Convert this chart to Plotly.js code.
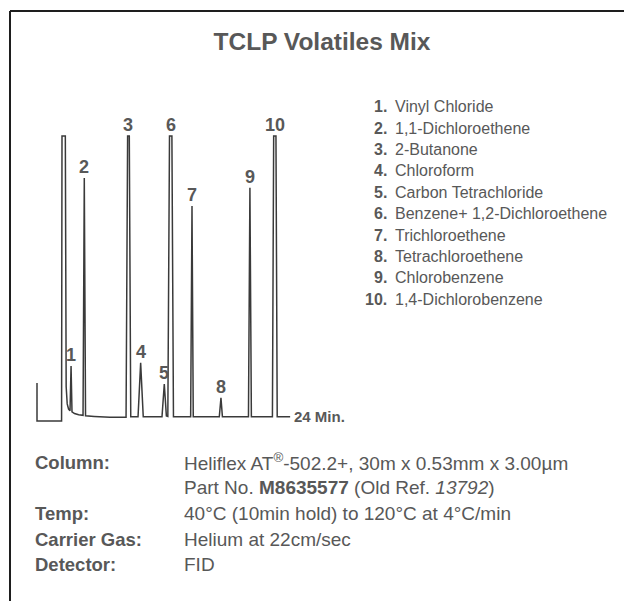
<!DOCTYPE html>
<html>
<head>
<meta charset="utf-8">
<script src="https://cdn.plot.ly/plotly-3.0.1.min.js"></script>
<style>html,body{margin:0;padding:0;background:#fff;}#chart{width:624px;height:601px;}</style>
</head>
<body>
<div id="chart"></div>
<script>
// ---- data ----
const chartTitle = "TCLP Volatiles Mix";
// chromatogram trace points (time in min, signal in arbitrary units, 100 = clipped top)
const traceTime = [0, 0, 2.36, 2.40, 2.72, 2.80, 2.90, 3.03, 3.17, 3.27, 3.36, 3.6, 4.0, 4.42, 4.54, 4.66, 5.5, 7.0, 8.55, 8.70, 8.86, 9.0, 9.7, 9.95, 10.2, 12.0, 12.22, 12.42, 12.56, 12.72, 12.95, 13.1, 14.75, 14.88, 15.0, 17.5, 17.66, 17.8, 20.3, 20.44, 20.58, 22.6, 22.72, 22.94, 23.06, 24.3];
const traceSignal = [13.3, 0, 0, 100, 100, 12, 6, 4.2, 3.6, 19.3, 3.2, 2.6, 2.2, 2.0, 85.3, 1.8, 1.6, 1.3, 1.3, 100, 100, 1.5, 1.5, 20.4, 1.5, 1.5, 13.0, 1.8, 1.6, 100, 100, 1.5, 1.5, 75.4, 1.5, 1.5, 8.1, 1.5, 1.5, 81.8, 1.5, 1.5, 100, 100, 1.5, 1.5];
// peaks
const peakNumbers = ["1", "2", "3", "4", "5", "6", "7", "8", "9", "10"];
const peakTimes = [3.27, 4.54, 8.78, 9.95, 12.22, 12.84, 14.88, 17.66, 20.44, 22.83];
const peakHeights = [19.3, 85.3, 100, 20.4, 13.0, 100, 75.4, 8.1, 81.8, 100];
const compoundNames = ["Vinyl Chloride", "1,1-Dichloroethene", "2-Butanone", "Chloroform", "Carbon Tetrachloride", "Benzene+ 1,2-Dichloroethene", "Trichloroethene", "Tetrachloroethene", "Chlorobenzene", "1,4-Dichlorobenzene"];
const endLabel = "24 Min.";
const endTime = 24.3;
const infoLabels = ["Column:", "", "Temp:", "Carrier Gas:", "Detector:"];
const infoValues = ["Heliflex AT<sup>®</sup>-502.2+, 30m x 0.53mm x 3.00µm", "Part No. <b>M8635577</b> (Old Ref. <i>13792</i>)", "40°C (10min hold) to 120°C at 4°C/min", "Helium at 22cm/sec", "FID"];

// ---- layout helpers ----
const W = 624, H = 601;
const px = x => x / W;
const py = y => 1 - y / H;
const FONT = "Liberation Sans, Arial, sans-serif";
const GRAY = "#585858";

const annotations = [];
peakNumbers.forEach((n, i) => {
  annotations.push({
    x: peakTimes[i], y: peakHeights[i], xref: "x", yref: "y",
    text: "<b>" + n + "</b>", showarrow: false,
    xanchor: "center", yanchor: "middle", yshift: 11,
    font: {family: FONT, size: 18, color: GRAY}
  });
});
annotations.push({
  x: endTime, y: traceSignal[traceSignal.length - 1], xref: "x", yref: "y",
  text: "<b>" + endLabel + "</b>", showarrow: false,
  xanchor: "left", yanchor: "middle", xshift: 2,
  font: {family: FONT, size: 15, color: GRAY}
});
compoundNames.forEach((name, i) => {
  const y = 106.7 + i * 21.4;
  annotations.push({
    x: px(389), y: py(y), xref: "paper", yref: "paper",
    text: "<b>" + (i + 1) + ".</b>", showarrow: false,
    xanchor: "right", yanchor: "middle",
    font: {family: FONT, size: 16, color: GRAY}
  });
  annotations.push({
    x: px(393), y: py(y), xref: "paper", yref: "paper",
    text: name, showarrow: false,
    xanchor: "left", yanchor: "middle",
    font: {family: FONT, size: 16, color: GRAY}
  });
});
const infoY = [462, 487.5, 513, 539, 564];
infoLabels.forEach((lab, i) => {
  if (lab) annotations.push({
    x: px(33), y: py(infoY[i]), xref: "paper", yref: "paper",
    text: "<b>" + lab + "</b>", showarrow: false,
    xanchor: "left", yanchor: "middle",
    font: {family: FONT, size: 18.5, color: GRAY}
  });
  annotations.push({
    x: px(182), y: py(infoY[i]), xref: "paper", yref: "paper",
    text: infoValues[i], showarrow: false,
    xanchor: "left", yanchor: "middle",
    font: {family: FONT, size: 19, color: GRAY}
  });
});

const trace = {
  x: traceTime, y: traceSignal, type: "scatter", mode: "lines",
  line: {color: "#3a3a3a", width: 1.5}, hoverinfo: "skip"
};

const layout = {
  width: W, height: H,
  margin: {l: 0, r: 0, t: 0, b: 0},
  paper_bgcolor: "#fff", plot_bgcolor: "rgba(0,0,0,0)",
  showlegend: false,
  title: {
    text: "<b>" + chartTitle + "</b>",
    x: px(322), y: py(41), xref: "paper", yref: "paper",
    xanchor: "center", yanchor: "middle",
    font: {family: FONT, size: 24.5, color: GRAY}
  },
  xaxis: {
    range: [-0.5, 24.5], domain: [px(31.79), px(292.21)],
    visible: false, fixedrange: true
  },
  yaxis: {
    range: [-2, 102], domain: [py(426.7), py(130.3)],
    visible: false, fixedrange: true
  },
  annotations: annotations,
  shapes: [
    {type: "line", xref: "paper", yref: "paper", x0: px(10), x1: px(10), y0: py(11), y1: -0.05, line: {color: "#1e1e1e", width: 2}},
    {type: "line", xref: "paper", yref: "paper", x0: px(10), x1: 1.05, y0: py(11), y1: py(11), line: {color: "#1e1e1e", width: 2}}
  ]
};

Plotly.newPlot("chart", [trace], layout, {staticPlot: true, displayModeBar: false});
</script>
</body>
</html>
